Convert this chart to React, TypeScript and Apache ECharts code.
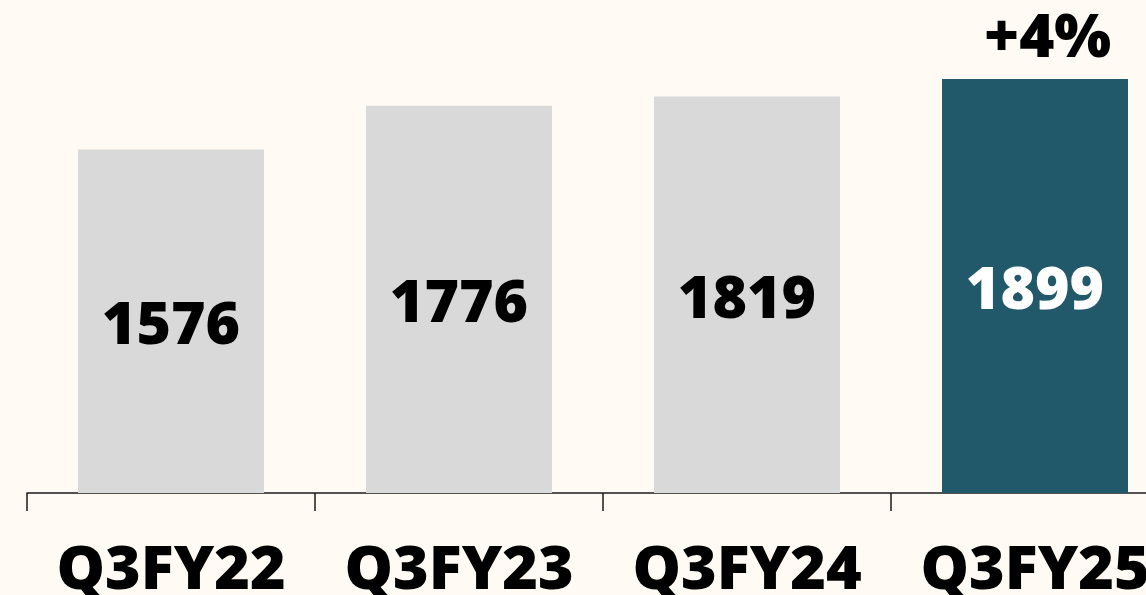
import React, { useEffect, useRef } from "react";
import * as echarts from "echarts";

const categories = ["Q3FY22", "Q3FY23", "Q3FY24", "Q3FY25"];
const values = [1576, 1776, 1819, 1899];
const barColors = ["#D9D9D9", "#D9D9D9", "#D9D9D9", "#22596A"];
const labelColors = ["#000000", "#000000", "#000000", "#FFFFFF"];
const growthLabel = "+4%";

const FONT = "'Open Sans', 'Noto Sans', sans-serif";

export default function App() {
  const ref = useRef<HTMLDivElement>(null);
  useEffect(() => {
    if (!ref.current) return;
    const chart = echarts.init(ref.current, null, { renderer: "svg" });
    chart.setOption({
      animation: false,
      backgroundColor: "#FFFBF4",
      grid: {
        left: 27,
        top: 57,
        width: 1152,
        height: 436,
        containLabel: false,
        outerBoundsMode: "none",
      },
      xAxis: {
        type: "category",
        data: categories,
        boundaryGap: true,
        axisLine: { show: true, lineStyle: { color: "#1a1a1a", width: 1.5 } },
        axisTick: { show: true, alignWithLabel: false, length: 18, lineStyle: { color: "#1a1a1a", width: 1.5 } },
        axisLabel: {
          interval: 0,
          margin: 42,
          color: "#000",
          fontFamily: FONT,
          fontWeight: 800,
          fontSize: 61,
          hideOverlap: false,
        },
      },
      yAxis: { type: "value", min: 0, max: 2000, show: false, splitLine: { show: false } },
      series: [
        {
          type: "bar",
          barWidth: 186,
          data: values.map((v, i) => ({
            value: v,
            itemStyle: { color: barColors[i] },
            label: { color: labelColors[i] },
          })),
          label: {
            show: true,
            position: "inside",
            fontFamily: FONT,
            fontWeight: 800,
            fontSize: 59,
          },
        },
      ],
      graphic: [
        {
          type: "text",
          left: 984,
          top: 4,
          style: {
            text: growthLabel,
            fill: "#000",
            font: `800 60px ${FONT}`,
          },
        },
      ],
    });
    return () => chart.dispose();
  }, []);
  return (
    <div
      ref={ref}
      style={{ position: "absolute", left: 0, top: 0, width: 1146, height: 595 }}
    />
  );
}
